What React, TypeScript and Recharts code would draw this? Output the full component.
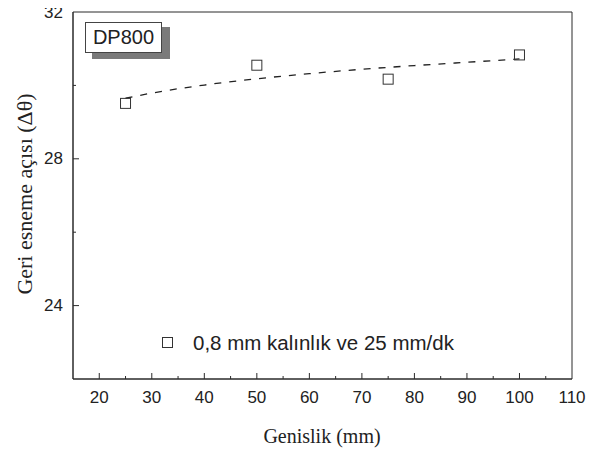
import React from 'react';
import { ComposedChart, XAxis, YAxis, Scatter, Line, ReferenceArea } from 'recharts';

const widths = [25, 50, 75, 100];
const springback = [29.51, 30.55, 30.17, 30.83];
const fitX = [25, 30, 40, 50, 60, 70, 80, 90, 100];
const fitY = [29.65, 29.79, 30.01, 30.18, 30.32, 30.44, 30.54, 30.63, 30.72];
const xTicks = [15, 20, 25, 30, 35, 40, 45, 50, 55, 60, 65, 70, 75, 80, 85, 90, 95, 100, 105, 110];
const yTicks = [22, 24, 26, 28, 30, 32];
const xLabeled = [20, 30, 40, 50, 60, 70, 80, 90, 100, 110];
const yLabeled = [24, 28, 32];

const points = widths.map((x, i) => ({ x, y: springback[i] }));
const fit = fitX.map((x, i) => ({ x, y: fitY[i] }));

const AX = '#2a2a2a';
const SANS = '"Liberation Sans", Arial, sans-serif';
const SERIF = '"Liberation Serif", "Times New Roman", serif';

const XTick = (props: any) => {
  const { x, y, payload } = props;
  const v = payload.value;
  const major = xLabeled.includes(v);
  return (
    <g>
      {v !== 15 && v !== 110 && (
        <line x1={x} y1={y} x2={x} y2={y - (major ? 6 : 3)} stroke={AX} strokeWidth={1} />
      )}
      {major && (
        <text x={x} y={y + 18} textAnchor="middle" dominantBaseline="central" fontFamily={SANS} fontSize={17} fill="#222">
          {v}
        </text>
      )}
    </g>
  );
};

const YTick = (props: any) => {
  const { x, y, payload } = props;
  const v = payload.value;
  const major = yLabeled.includes(v);
  return (
    <g>
      {v !== 22 && v !== 32 && (
        <line x1={x} y1={y} x2={x + (major ? 6 : 3)} y2={y} stroke={AX} strokeWidth={1} />
      )}
      {major && (
        <text x={x - 10} y={y} textAnchor="end" dominantBaseline="central" fontFamily={SANS} fontSize={17} fill="#222">
          {v}
        </text>
      )}
    </g>
  );
};

const Square = (props: any) => {
  const { cx, cy } = props;
  return <rect x={cx - 5} y={cy - 5} width={10} height={10} fill="none" stroke="#333" strokeWidth={1} />;
};

export default function App() {
  return (
    <div style={{ position: 'relative', width: 603, height: 452, margin: '-8px 0 0 -8px' }}>
      <ComposedChart width={603} height={452} margin={{ top: 12, right: 31, bottom: 0, left: 0 }} style={{ overflow: 'visible' }}>
        <XAxis
          dataKey="x"
          type="number"
          domain={[15, 110]}
          ticks={xTicks}
          interval={0}
          height={73}
          tickSize={0}
          tickMargin={0}
          tickLine={false}
          tick={<XTick />}
          stroke={AX}
          allowDataOverflow
        />
        <YAxis
          type="number"
          domain={[22, 32]}
          ticks={yTicks}
          interval={0}
          width={73}
          tickSize={0}
          tickMargin={0}
          tickLine={false}
          tick={<YTick />}
          stroke={AX}
          allowDataOverflow
        />
        <ReferenceArea x1={15} x2={110} y1={22} y2={32} fill="none" stroke={AX} strokeWidth={1} ifOverflow="visible" />
        <Line
          data={fit}
          dataKey="y"
          type="monotone"
          stroke="#222"
          strokeWidth={1.3}
          strokeDasharray="7 8"
          dot={false}
          activeDot={false}
          isAnimationActive={false}
        />
        <Scatter data={points} dataKey="y" shape={<Square />} isAnimationActive={false} />
      </ComposedChart>

      <div style={{ position: 'absolute', left: 92, top: 27, width: 78, height: 32, background: '#7a7a7a' }} />
      <div
        style={{
          position: 'absolute', left: 85, top: 22, width: 77, height: 31, background: '#fff',
          border: '1px solid #444', display: 'flex', alignItems: 'center', justifyContent: 'center',
          fontFamily: SANS, fontSize: 20, color: '#222', boxSizing: 'border-box',
        }}
      >
        DP800
      </div>

      <div style={{ position: 'absolute', left: 162, top: 337, width: 9, height: 9, border: '1px solid #333' }} />
      <div
        style={{
          position: 'absolute', left: 193, top: 331, height: 24, lineHeight: '24px',
          fontFamily: SANS, fontSize: 20.5, color: '#222', whiteSpace: 'nowrap',
        }}
      >
        0,8 mm kalınlık ve 25 mm/dk
      </div>

      <div
        style={{
          position: 'absolute', left: 322, top: 436, transform: 'translate(-50%, -50%)',
          fontFamily: SERIF, fontSize: 20, color: '#222', whiteSpace: 'nowrap',
        }}
      >
        Genislik (mm)
      </div>
      <div
        style={{
          position: 'absolute', left: 25, top: 194, transform: 'translate(-50%, -50%) rotate(-90deg)',
          fontFamily: SERIF, fontSize: 22, color: '#222', whiteSpace: 'nowrap',
        }}
      >
        Geri esneme açısı (Δθ)
      </div>
    </div>
  );
}
